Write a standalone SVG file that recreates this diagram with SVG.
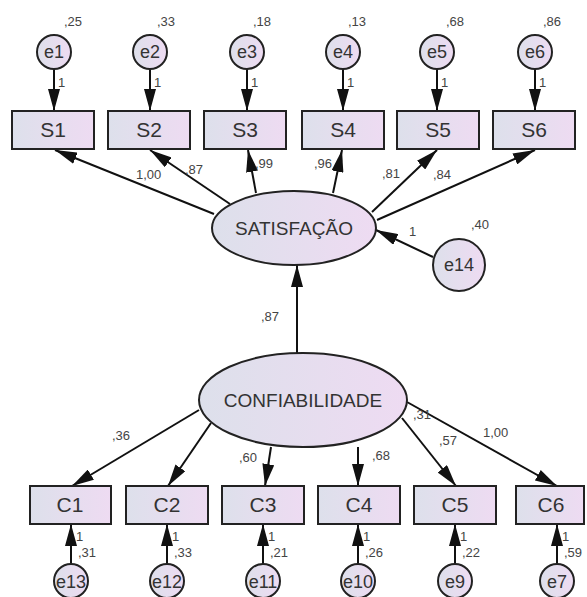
<svg xmlns="http://www.w3.org/2000/svg" width="587" height="597" viewBox="0 0 587 597">
<defs>
<linearGradient id="g" x1="0" y1="0" x2="1" y2="0">
<stop offset="0" stop-color="#dde0eb"/>
<stop offset="1" stop-color="#eedbf2"/>
</linearGradient>
<marker id="ah" viewBox="0 0 22 12" refX="22" refY="6" markerWidth="22" markerHeight="12" orient="auto" markerUnits="userSpaceOnUse">
<path d="M0,0 L22,6 L0,12 z" fill="#111"/>
</marker>
<style>
.n{fill:url(#g);stroke:#222;stroke-width:2}
.t{font-family:"Liberation Sans",Arial,sans-serif;fill:#333;text-anchor:middle}
.b{font-size:21px}
.e{font-size:18px}
.v{font-size:19px}
.l{font-family:"Liberation Sans",Arial,sans-serif;fill:#444;font-size:13px}
.c line{stroke:#111;stroke-width:2;marker-end:url(#ah)}
</style>
</defs>
<rect width="587" height="597" fill="#fff"/>
<g class="c">
<line x1="54" y1="69" x2="54" y2="111"/>
<line x1="150" y1="69" x2="150" y2="111"/>
<line x1="247" y1="69" x2="247" y2="111"/>
<line x1="343" y1="69" x2="343" y2="111"/>
<line x1="437" y1="69" x2="437" y2="111"/>
<line x1="535" y1="69" x2="535" y2="111"/>
<line x1="214" y1="214" x2="55" y2="150"/>
<line x1="230" y1="204" x2="150" y2="150"/>
<line x1="256" y1="193" x2="248" y2="150"/>
<line x1="333" y1="193" x2="342" y2="150"/>
<line x1="372" y1="212" x2="437" y2="150"/>
<line x1="377" y1="220" x2="535" y2="150"/>
<line x1="433" y1="257" x2="376" y2="230"/>
<line x1="297" y1="353" x2="297" y2="265"/>
<line x1="199" y1="410" x2="72" y2="486"/>
<line x1="211" y1="423" x2="168" y2="486"/>
<line x1="271" y1="447" x2="265" y2="486"/>
<line x1="358" y1="447" x2="358" y2="486"/>
<line x1="402" y1="418" x2="456" y2="486"/>
<line x1="407" y1="402" x2="557" y2="486"/>
<line x1="71" y1="564" x2="71" y2="524"/>
<line x1="167" y1="564" x2="167" y2="524"/>
<line x1="263" y1="564" x2="263" y2="524"/>
<line x1="358" y1="564" x2="358" y2="524"/>
<line x1="455" y1="564" x2="455" y2="524"/>
<line x1="557" y1="564" x2="557" y2="524"/>
</g>
<g id="e1"><circle class="n" cx="54" cy="52" r="17"/><text class="t e" x="54" y="58">e1</text></g>
<g id="e2"><circle class="n" cx="150" cy="52" r="17"/><text class="t e" x="150" y="58">e2</text></g>
<g id="e3"><circle class="n" cx="247" cy="52" r="17"/><text class="t e" x="247" y="58">e3</text></g>
<g id="e4"><circle class="n" cx="343" cy="52" r="17"/><text class="t e" x="343" y="58">e4</text></g>
<g id="e5"><circle class="n" cx="437" cy="52" r="17"/><text class="t e" x="437" y="58">e5</text></g>
<g id="e6"><circle class="n" cx="535" cy="52" r="17"/><text class="t e" x="535" y="58">e6</text></g>
<g id="S1"><rect class="n" x="12" y="111" width="82" height="38"/><text class="t b" x="53" y="137">S1</text></g>
<g id="S2"><rect class="n" x="108" y="111" width="82" height="38"/><text class="t b" x="149" y="137">S2</text></g>
<g id="S3"><rect class="n" x="204" y="111" width="82" height="38"/><text class="t b" x="245" y="137">S3</text></g>
<g id="S4"><rect class="n" x="302" y="111" width="82" height="38"/><text class="t b" x="343" y="137">S4</text></g>
<g id="S5"><rect class="n" x="397" y="111" width="82" height="38"/><text class="t b" x="438" y="137">S5</text></g>
<g id="S6"><rect class="n" x="493" y="111" width="82" height="38"/><text class="t b" x="534" y="137">S6</text></g>
<g id="SATISFACAO"><ellipse class="n" cx="294" cy="228" rx="82" ry="37"/><text class="t v" x="294" y="235">SATISFAÇÃO</text></g>
<g id="e14"><circle class="n" cx="459" cy="265" r="26"/><text class="t e" x="459" y="271">e14</text></g>
<g id="CONFIABILIDADE"><ellipse class="n" cx="303" cy="400" rx="104" ry="47"/><text class="t v" x="303" y="407">CONFIABILIDADE</text></g>
<g id="C1"><rect class="n" x="30" y="486" width="81" height="38"/><text class="t b" x="70" y="512">C1</text></g>
<g id="C2"><rect class="n" x="126" y="486" width="82" height="38"/><text class="t b" x="167" y="512">C2</text></g>
<g id="C3"><rect class="n" x="222" y="486" width="82" height="38"/><text class="t b" x="263" y="512">C3</text></g>
<g id="C4"><rect class="n" x="318" y="486" width="82" height="38"/><text class="t b" x="359" y="512">C4</text></g>
<g id="C5"><rect class="n" x="414" y="486" width="82" height="38"/><text class="t b" x="455" y="512">C5</text></g>
<g id="C6"><rect class="n" x="516" y="486" width="68" height="38"/><text class="t b" x="551" y="512">C6</text></g>
<g id="e13"><circle class="n" cx="71" cy="581" r="17"/><text class="t e" x="71" y="588">e13</text></g>
<g id="e12"><circle class="n" cx="167" cy="581" r="17"/><text class="t e" x="167" y="588">e12</text></g>
<g id="e11"><circle class="n" cx="263" cy="581" r="17"/><text class="t e" x="263" y="588">e11</text></g>
<g id="e10"><circle class="n" cx="358" cy="581" r="17"/><text class="t e" x="358" y="588">e10</text></g>
<g id="e9"><circle class="n" cx="455" cy="581" r="17"/><text class="t e" x="455" y="588">e9</text></g>
<g id="e7"><circle class="n" cx="557" cy="581" r="17"/><text class="t e" x="557" y="588">e7</text></g>
<g id="labels">
<text class="l" x="64" y="26">,25</text>
<text class="l" x="157" y="26">,33</text>
<text class="l" x="253" y="26">,18</text>
<text class="l" x="348" y="26">,13</text>
<text class="l" x="446" y="26">,68</text>
<text class="l" x="543" y="26">,86</text>
<text class="l" x="58" y="87">1</text>
<text class="l" x="154" y="87">1</text>
<text class="l" x="251" y="87">1</text>
<text class="l" x="347" y="87">1</text>
<text class="l" x="441" y="87">1</text>
<text class="l" x="539" y="87">1</text>
<text class="l" x="136" y="179">1,00</text>
<text class="l" x="185" y="174">,87</text>
<text class="l" x="255" y="168">,99</text>
<text class="l" x="314" y="168">,96</text>
<text class="l" x="382" y="178">,81</text>
<text class="l" x="433" y="179">,84</text>
<text class="l" x="409" y="236">1</text>
<text class="l" x="471" y="229">,40</text>
<text class="l" x="261" y="321">,87</text>
<text class="l" x="112" y="440">,36</text>
<text class="l" x="239" y="462">,60</text>
<text class="l" x="372" y="460">,68</text>
<text class="l" x="439" y="445">,57</text>
<text class="l" x="413" y="419">,31</text>
<text class="l" x="483" y="437">1,00</text>
<text class="l" x="76" y="541">1</text>
<text class="l" x="78" y="557">,31</text>
<text class="l" x="172" y="541">1</text>
<text class="l" x="174" y="557">,33</text>
<text class="l" x="268" y="541">1</text>
<text class="l" x="270" y="557">,21</text>
<text class="l" x="363" y="541">1</text>
<text class="l" x="365" y="557">,26</text>
<text class="l" x="460" y="541">1</text>
<text class="l" x="462" y="557">,22</text>
<text class="l" x="562" y="541">1</text>
<text class="l" x="564" y="557">,59</text>
</g>
</svg>
